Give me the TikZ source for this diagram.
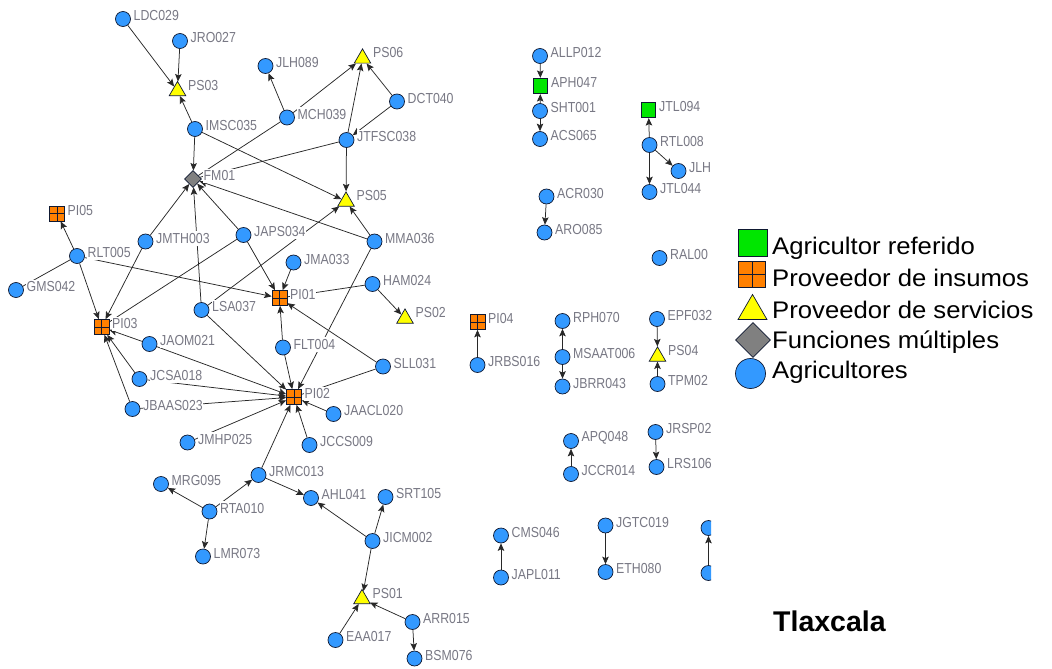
\documentclass[tikz,border=0pt]{standalone}
\usepackage{fontspec}
\setmainfont{Liberation Sans}
\newfontfamily\lblf[FakeStretch=0.85]{Liberation Sans}
\newfontfamily\legf[FakeStretch=1.07]{Liberation Sans}
\usetikzlibrary{shapes.geometric,arrows.meta,calc}
\pgfdeclarelayer{edgelayer}
\pgfsetlayers{edgelayer,main}
\definecolor{agblue}{RGB}{51,153,255}
\definecolor{outl}{RGB}{15,25,50}
\definecolor{psyel}{RGB}{255,255,0}
\definecolor{piorange}{RGB}{255,128,0}
\definecolor{argreen}{RGB}{0,230,0}
\definecolor{fmgray}{RGB}{128,128,128}
\definecolor{lblgray}{RGB}{120,120,132}
\definecolor{edgecol}{RGB}{40,40,40}
\tikzset{
  agri/.style={circle, fill=agblue, draw=outl, line width=0.7pt, minimum size=15pt, inner sep=0pt},
  psbase/.style={regular polygon, regular polygon sides=3, fill=psyel, draw=outl, line width=0.7pt, inner sep=0pt},
  ps/.style={psbase, minimum size=19pt, yshift=-2.4pt},
  pi/.style={rectangle, fill=piorange, draw=outl, line width=0.7pt, minimum size=15pt, inner sep=0pt,
    path picture={\draw[outl, line width=0.7pt] (path picture bounding box.north) -- (path picture bounding box.south)
      (path picture bounding box.west) -- (path picture bounding box.east);}},
  ar/.style={rectangle, fill=argreen, draw=outl, line width=0.7pt, minimum width=14.5pt, minimum height=15.5pt, inner sep=0pt},
  fm/.style={diamond, fill=fmgray, draw=outl, line width=0.7pt, minimum width=17pt, minimum height=17pt, inner sep=0pt},
  lbl/.style={font=\lblf\fontsize{14.5}{14.5}\selectfont, text=lblgray, fill=white, inner xsep=0.5pt, inner ysep=2pt, anchor=west},
  legt/.style={font=\legf\fontsize{24}{24}\selectfont, text=black, inner sep=0pt, anchor=base west},
  arr/.style={draw=edgecol, line width=0.75pt, -{Stealth[length=7.5pt,width=6.5pt,inset=1.5pt]}},
  lin/.style={draw=edgecol, line width=0.75pt}
}
\newcommand\gn[4]{\node[#1] (#2) at (#3) {}; \node[lbl] (#2-l) at ($(#3)+(10,-3)$) {#4};}
\begin{document}
\begin{tikzpicture}[x=1pt,y=-1pt]
\useasboundingbox (0,0) rectangle (1052,669);
\begin{scope}
\clip (0,0) rectangle (711,669);
% main cluster
\gn{agri}{LDC029}{123,19}{LDC029}
\gn{agri}{JRO027}{180,41}{JRO027}
\gn{ps}{PS03}{177.5,88.5}{PS03}
\gn{agri}{JLH089}{265.5,66}{JLH089}
\gn{ps}{PS06}{362.5,56}{PS06}
\gn{agri}{MCH039}{287,117.5}{MCH039}
\gn{agri}{DCT040}{397,101.5}{DCT040}
\gn{agri}{IMSC035}{195,129}{IMSC035}
\gn{agri}{JTFSC038}{346.5,140}{JTFSC038}
\gn{fm}{FM01}{193,179}{FM01}
\gn{ps}{PS05}{346,199}{PS05}
\gn{pi}{PI05}{57,213.5}{PI05}
\gn{agri}{RLT005}{77,256}{RLT005}
\gn{agri}{JMTH003}{145.5,241.5}{JMTH003}
\gn{agri}{JAPS034}{243.5,235}{JAPS034}
\gn{agri}{MMA036}{374.5,241.5}{MMA036}
\gn{agri}{GMS042}{16,290}{GMS042}
\gn{agri}{JMA033}{293.5,262.5}{JMA033}
\gn{agri}{HAM024}{372.5,284}{HAM024}
\gn{pi}{PI01}{279.5,298}{PI01}
\gn{agri}{LSA037}{201.5,310}{LSA037}
\gn{ps}{PS02}{405,316}{PS02}
\gn{pi}{PI03}{101.5,327}{PI03}
\gn{agri}{JAOM021}{149.5,344}{JAOM021}
\gn{agri}{FLT004}{283,347.5}{FLT004}
\gn{agri}{SLL031}{383,366.5}{SLL031}
\gn{agri}{JCSA018}{139.5,379}{JCSA018}
\gn{pi}{PI02}{294,397}{PI02}
\gn{agri}{JBAAS023}{132.5,409}{JBAAS023}
\gn{agri}{JAACL020}{333.5,414}{JAACL020}
\gn{agri}{JMHP025}{187.5,442.5}{JMHP025}
\gn{agri}{JCCS009}{309.5,445}{JCCS009}
\gn{agri}{JRMC013}{258.5,475}{JRMC013}
\gn{agri}{MRG095}{161,484}{MRG095}
\gn{agri}{RTA010}{209.5,511.5}{RTA010}
\gn{agri}{AHL041}{311,498}{AHL041}
\gn{agri}{SRT105}{385.5,497}{SRT105}
\gn{agri}{JICM002}{372.5,541}{JICM002}
\gn{agri}{LMR073}{203,556.5}{LMR073}
\gn{ps}{PS01}{362,596.5}{PS01}
\gn{agri}{ARR015}{412.5,622}{ARR015}
\gn{agri}{EAA017}{335.5,640}{EAA017}
\gn{agri}{BSM076}{414.5,658.5}{BSM076}
% right clusters
\gn{agri}{ALLP012}{540,56}{ALLP012}
\gn{ar}{APH047}{540.5,86}{APH047}
\gn{agri}{SHT001}{540,111}{SHT001}
\gn{agri}{ACS065}{540,139}{ACS065}
\gn{ar}{JTL094}{648.5,110}{JTL094}
\gn{agri}{RTL008}{649.5,145}{RTL008}
\gn{agri}{JLH}{678.5,171}{JLH}
\gn{agri}{JTL044}{649.5,192}{JTL044}
\gn{agri}{ACR030}{546.5,196.5}{ACR030}
\gn{agri}{ARO085}{544.5,232.5}{ARO085}
\gn{agri}{RAL00}{659.5,258}{RAL00}
\gn{pi}{PI04}{477.5,322}{PI04}
\gn{agri}{JRBS016}{477.5,365}{JRBS016}
\gn{agri}{RPH070}{562.5,321}{RPH070}
\gn{agri}{MSAAT006}{562.5,357}{MSAAT006}
\gn{agri}{JBRR043}{562.5,386.5}{JBRR043}
\gn{agri}{EPF032}{657,319}{EPF032}
\gn{ps}{PS04}{657.5,354}{PS04}
\gn{agri}{TPM02}{657.5,384}{TPM02}
\gn{agri}{APQ048}{571,441}{APQ048}
\gn{agri}{JCCR014}{571,474}{JCCR014}
\gn{agri}{JRSP02}{655.5,432}{JRSP02}
\gn{agri}{LRS106}{656.5,467}{LRS106}
\gn{agri}{CMS046}{501,535.5}{CMS046}
\gn{agri}{JAPL011}{501,577.5}{JAPL011}
\gn{agri}{JGTC019}{605.5,525.5}{JGTC019}
\gn{agri}{ETH080}{605.5,572}{ETH080}
\node[agri] (X1) at (708.5,528) {};
\node[agri] (X2) at (708.5,573) {};
\end{scope}
\begin{pgfonlayer}{edgelayer}
\foreach \a/\b in {LDC029/PS03, JRO027/PS03, IMSC035/PS03, IMSC035/FM01, IMSC035/PS05,
  MCH039/JLH089, MCH039/PS06, JTFSC038/PS06, DCT040/PS06, DCT040/JTFSC038, JTFSC038/PS05,
  MMA036/FM01, MMA036/PS05, JAPS034/FM01, LSA037/FM01, JMTH003/FM01, LSA037/PS05,
  RLT005/PI05, RLT005/PI03, RLT005/PI01, JMTH003/PI03, JAPS034/PI01, JMA033/PI01,
  HAM024/PS02, FLT004/PI01, SLL031/PI01, FLT004/PI02, MMA036/PI02, JAACL020/PI02,
  JCCS009/PI02, JRMC013/PI02, JMHP025/PI02, JBAAS023/PI02, JCSA018/PI02, JAOM021/PI02,
  LSA037/PI02, JBAAS023/PI03, JCSA018/PI03, JAOM021/PI03, JRMC013/AHL041, RTA010/JRMC013,
  RTA010/MRG095, RTA010/LMR073, JICM002/AHL041, JICM002/SRT105, JICM002/PS01,
  ARR015/PS01, EAA017/PS01, ARR015/BSM076,
  ALLP012/APH047, SHT001/APH047, SHT001/ACS065, RTL008/JTL094, RTL008/JLH, RTL008/JTL044,
  ACR030/ARO085, JRBS016/PI04, MSAAT006/RPH070, MSAAT006/JBRR043, EPF032/PS04, TPM02/PS04,
  JCCR014/APQ048, JRSP02/LRS106, JAPL011/CMS046, JGTC019/ETH080, X2/X1}
  {\draw[arr] (\a) -- (\b);}
\foreach \a/\b in {MCH039/FM01, JTFSC038/FM01, JAPS034/PI03, GMS042/RLT005, HAM024/PI01, SLL031/PI02}
  {\draw[lin] (\a) -- (\b);}
\end{pgfonlayer}
% legend
\node[ar, minimum width=29pt, minimum height=27pt] (lg1) at (753,243) {};
\node[pi, minimum width=27pt, minimum height=26pt] (lg2) at (752,274) {};
\node[psbase, minimum size=33.5pt, yshift=-4.2pt] (lg3) at (752.5,307) {};
\node[fm, minimum width=35pt, minimum height=35pt] (lg4) at (753,340) {};
\node[agri, minimum size=30pt] (lg5) at (750.5,373.5) {};
\node[legt] (lt1) at (772,254.5) {Agricultor referido};
\node[legt] (lt2) at (772,286) {Proveedor de insumos};
\node[legt] (lt3) at (772,318) {Proveedor de servicios};
\node[legt] (lt4) at (772,348) {Funciones múltiples};
\node[legt] (lt5) at (772,378) {Agricultores};
\node[font=\bfseries\fontsize{28.5}{28.5}\selectfont, inner sep=0pt, anchor=base west] (tlx) at (773,631) {Tlaxcala};
\end{tikzpicture}
\end{document}
